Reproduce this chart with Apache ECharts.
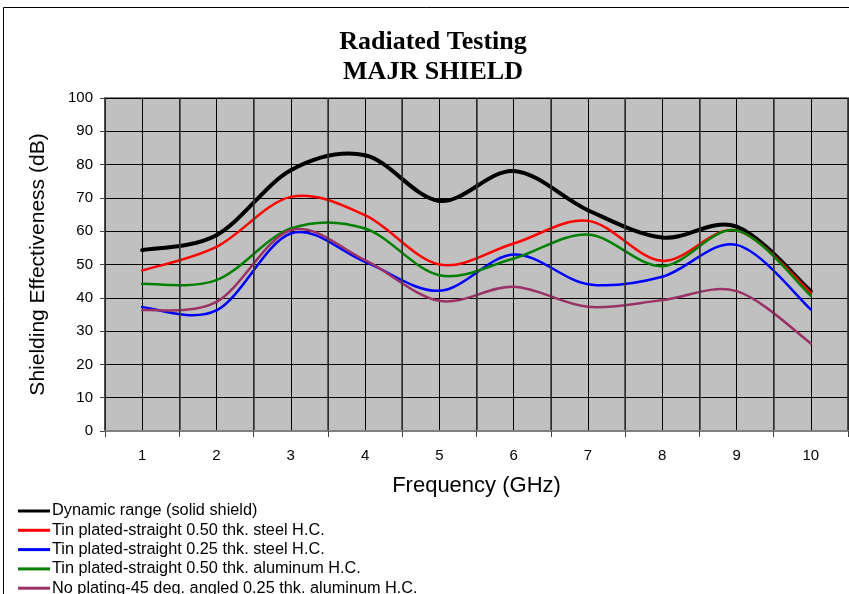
<!DOCTYPE html>
<html>
<head>
<meta charset="utf-8">
<script src="https://cdn.jsdelivr.net/npm/echarts@6/dist/echarts.min.js"></script>
<style>
  html, body { margin: 0; padding: 0; background: #fff; }
  #chart { width: 849px; height: 594px; }
</style>
</head>
<body>
<div id="chart"></div>
<script>
// frequency categories (GHz)
var freqs = ['1', '2', '3', '4', '5', '6', '7', '8', '9', '10'];
var halfSteps = ['', '', '', '', '', '', '', '', '', '', '', '', '', '', '', '', '', '', '', ''];

// shielding effectiveness (dB) per series
var dynamicRange = [54.3, 58.8, 78.3, 82.8, 69.1, 78.1, 66.3, 58.1, 61.4, 42.0];
var steel050 = [48.2, 55.3, 70.3, 64.8, 50.0, 56.3, 63.1, 51.1, 60.2, 41.5];
var steel025 = [37.2, 36.2, 59.3, 50.8, 42.1, 53.0, 44.1, 46.3, 55.9, 36.5];
var alu050 = [44.2, 45.3, 60.8, 60.8, 46.8, 51.8, 59.0, 49.5, 60.2, 40.6];
var noPlating = [36.3, 38.8, 60.3, 51.3, 39.1, 43.3, 37.3, 39.3, 42.0, 26.3];

var names = [
  'Dynamic range (solid shield)',
  'Tin plated-straight 0.50 thk. steel H.C.',
  'Tin plated-straight 0.25 thk. steel H.C.',
  'Tin plated-straight 0.50 thk. aluminum H.C.',
  'No plating-45 deg. angled 0.25 thk. aluminum H.C.'
];

var chart = echarts.init(document.getElementById('chart'));

// excel style smoothed line: each point draws its segment to the next one
function spline(name, values, color, width) {
  return {
    name: name,
    type: 'custom',
    data: values.map(function (v, i) { return [i, v]; }),
    itemStyle: { color: color },
    renderItem: function (params, api) {
      var i = params.dataIndex;
      if (i >= values.length - 1) return null;
      var p1 = api.coord([i, values[i]]);
      var p2 = api.coord([i + 1, values[i + 1]]);
      var p0 = i > 0 ? api.coord([i - 1, values[i - 1]]) : p1;
      var p3 = i + 2 < values.length ? api.coord([i + 2, values[i + 2]]) : p2;
      return {
        type: 'bezierCurve',
        shape: {
          x1: p1[0], y1: p1[1],
          cpx1: p1[0] + (p2[0] - p0[0]) / 6,
          cpy1: p1[1] + (p2[1] - p0[1]) / 6,
          cpx2: p2[0] - (p3[0] - p1[0]) / 6,
          cpy2: p2[1] - (p3[1] - p1[1]) / 6,
          x2: p2[0], y2: p2[1]
        },
        style: { stroke: color, lineWidth: width, fill: null, lineCap: 'round' }
      };
    }
  };
}

var option = {
  animation: false,
  textStyle: { fontFamily: 'Liberation Sans' },
  title: {
    text: 'Radiated Testing\nMAJR SHIELD',
    left: 428,
    top: 22,
    textAlign: 'center',
    textStyle: {
      fontFamily: 'Liberation Serif',
      fontWeight: 'bold',
      fontSize: 26,
      lineHeight: 30,
      color: '#000'
    }
  },
  graphic: [{
    type: 'rect',
    shape: { x: 3.5, y: 7.5, width: 900, height: 700 },
    style: { fill: 'none', stroke: '#000', lineWidth: 1 },
    silent: true
  }],
  legend: {
    orient: 'vertical',
    left: 13,
    top: 498,
    height: 150,
    icon: 'rect',
    itemWidth: 32,
    itemHeight: 3,
    itemGap: 3.3,
    textStyle: { fontSize: 16.3, lineHeight: 16, color: '#000', fontFamily: 'Liberation Sans', padding: [0, 0, 0, -3] },
    data: names
  },
  grid: {
    left: 105,
    right: 1,
    top: 98,
    bottom: 163,
    show: true,
    backgroundColor: '#c0c0c0',
    borderColor: '#808080',
    borderWidth: 2
  },
  xAxis: [{
    type: 'category',
    data: freqs,
    boundaryGap: true,
    name: 'Frequency (GHz)',
    nameLocation: 'middle',
    nameGap: 44,
    nameTextStyle: { fontSize: 22, color: '#000' },
    axisLine: { lineStyle: { color: '#808080', width: 2 } },
    axisTick: { show: true, length: 6, lineStyle: { color: '#404040' } },
    axisLabel: { fontSize: 15, color: '#000', margin: 17 },
    splitLine: { show: true, lineStyle: { color: '#3a3a3a', width: 1.5 } },
    z: 3
  }, {
    type: 'category',
    data: halfSteps,
    boundaryGap: true,
    position: 'bottom',
    axisLine: { show: false },
    axisTick: { show: false },
    axisLabel: { show: false },
    splitLine: { show: true, lineStyle: { color: '#000', width: 1 } },
    z: 2
  }],
  yAxis: {
    type: 'value',
    min: 0,
    max: 100,
    interval: 10,
    name: 'Shielding Effectiveness (dB)',
    nameLocation: 'middle',
    nameGap: 56,
    nameTextStyle: { fontSize: 21, color: '#000' },
    axisLine: { show: true, lineStyle: { color: '#808080', width: 2 } },
    axisTick: { show: true, length: 5, lineStyle: { color: '#404040' } },
    axisLabel: { fontSize: 15, color: '#000', margin: 12 },
    splitLine: { show: true, lineStyle: { color: '#000', width: 1 } }
  },
  series: [
    spline(names[0], dynamicRange, '#000000', 4),
    spline(names[1], steel050, '#ff0000', 2.5),
    spline(names[2], steel025, '#0000ff', 2.5),
    spline(names[3], alu050, '#008000', 2.5),
    spline(names[4], noPlating, '#993366', 2.5)
  ]
};

chart.setOption(option);
</script>
</body>
</html>
